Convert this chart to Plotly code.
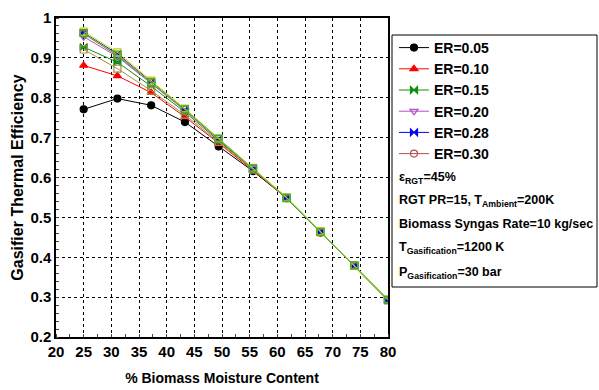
import plotly.graph_objects as go

# Moisture content (%) at which the gasifier was evaluated
moisture = [25, 31.1, 37.2, 43.3, 49.4, 55.6, 61.7, 67.8, 73.9, 80]

# Gasifier thermal efficiency for each equivalence ratio
eff_er005 = [0.771, 0.798, 0.781, 0.739, 0.678, 0.616, 0.548, 0.462, 0.380, 0.293]
eff_er010 = [0.881, 0.855, 0.813, 0.752, 0.686, 0.618, 0.548, 0.463, 0.379, 0.292]
eff_er015 = [0.927, 0.889, 0.829, 0.764, 0.692, 0.621, 0.548, 0.463, 0.379, 0.292]
eff_er020 = [0.953, 0.903, 0.836, 0.768, 0.695, 0.622, 0.549, 0.464, 0.379, 0.293]
eff_er028 = [0.963, 0.910, 0.840, 0.771, 0.697, 0.623, 0.549, 0.464, 0.379, 0.293]
eff_er030 = [0.960, 0.906, 0.838, 0.770, 0.696, 0.622, 0.549, 0.464, 0.379, 0.293]
eff_er035 = [0.966, 0.914, 0.843, 0.773, 0.698, 0.624, 0.550, 0.465, 0.380, 0.294]
eff_er040 = [0.962, 0.908, 0.839, 0.771, 0.697, 0.623, 0.549, 0.464, 0.380, 0.293]
eff_er045 = [0.921, 0.873, 0.818, 0.757, 0.689, 0.620, 0.548, 0.463, 0.379, 0.292]

# name, values, line colour, marker symbol, marker colour, listed in legend
series = [
    ("ER=0.05", eff_er005, "#000000", "circle", "#000000", True),
    ("ER=0.10", eff_er010, "#ff0000", "triangle-up", "#ff0000", True),
    ("ER=0.15", eff_er015, "#109010", "bowtie", "#109010", True),
    ("ER=0.20", eff_er020, "#b050c8", "triangle-down-open", "#b050c8", True),
    ("ER=0.28", eff_er028, "#0000ff", "bowtie", "#0000ff", True),
    ("ER=0.30", eff_er030, "#b05050", "circle-open", "#b05050", True),
    ("ER=0.45", eff_er045, "#a09048", "square-open", "#a09048", False),
    ("ER=0.35", eff_er035, "#e0e000", "square-open", "#c8c800", False),
    ("ER=0.40", eff_er040, "#50e030", "square-open", "#30b030", False),
]

fig = go.Figure()
for rank, (name, vals, col, sym, mcol, show) in enumerate(series, start=1):
    fig.add_trace(go.Scatter(
        x=moisture, y=vals, name=name, mode="lines+markers",
        line=dict(color=col, width=1),
        marker=dict(symbol=sym, size=7, color=mcol, line=dict(color=mcol, width=1.2)),
        showlegend=show, legendrank=rank,
    ))

FONT = "Liberation Sans, Arial, sans-serif"

x_ticks = [20, 25, 30, 35, 40, 45, 50, 55, 60, 65, 70, 75, 80]
y_ticks = [0.2, 0.3, 0.4, 0.5, 0.6, 0.7, 0.8, 0.9, 1.0]
y_labels = ["0.2", "0.3", "0.4", "0.5", "0.6", "0.7", "0.8", "0.9", "1"]

axis_common = dict(
    showline=True, linecolor="#000000", linewidth=1.5, mirror=True,
    showgrid=True, gridcolor="#000000", gridwidth=1, griddash="dot",
    ticks="", zeroline=False, automargin=False,
    tickfont=dict(family=FONT, size=15, color="#000000", weight="bold"),
)

fig.update_xaxes(
    range=[20, 80], tickvals=x_ticks, ticktext=[str(v) for v in x_ticks],
    title=dict(text="% Biomass Moisture Content", standoff=14,
               font=dict(family=FONT, size=14, color="#000000", weight="bold")),
    minor=dict(dtick=2.5, ticks="inside", ticklen=3, tickcolor="#444", showgrid=False),
    **axis_common,
)
fig.update_yaxes(
    range=[0.2, 1.0], tickvals=y_ticks, ticktext=y_labels,
    title=dict(text="Gasifier Thermal Efficiency", standoff=3,
               font=dict(family=FONT, size=16, color="#000000", weight="bold")),
    minor=dict(dtick=0.02, ticks="inside", ticklen=3, tickcolor="#444", showgrid=False),
    **axis_common,
)

# Box enclosing the legend and the operating conditions
fig.add_shape(type="rect", xref="paper", yref="paper",
              x0=(392 - 56) / 332, x1=(597 - 56) / 332,
              y0=(337 - 287) / 319, y1=(337 - 35) / 319,
              line=dict(color="#000000", width=1), fillcolor="#ffffff", layer="below")

conditions = [
    ("ε<sub>RGT</sub>=45%", 178),
    ("RGT PR=15, T<sub>Ambient</sub>=200K", 201),
    ("Biomass Syngas Rate=10 kg/sec", 224),
    ("T<sub>Gasification</sub>=1200 K", 248),
    ("P<sub>Gasification</sub>=30 bar", 273),
]
for txt, py in conditions:
    fig.add_annotation(
        text=txt, xref="paper", yref="paper",
        x=(397 - 56) / 332, y=(337 - py) / 319, xanchor="left", yanchor="middle",
        showarrow=False,
        font=dict(family=FONT, size=12.5, color="#000000", weight="bold"),
    )

fig.update_layout(
    width=599, height=390,
    margin=dict(l=56, r=211, t=18, b=53, autoexpand=False),
    paper_bgcolor="#ffffff", plot_bgcolor="#ffffff",
    legend=dict(
        x=(394 - 56) / 332, y=(337 - 32) / 319, xanchor="left", yanchor="top",
        bgcolor="rgba(0,0,0,0)", borderwidth=0,
        font=dict(family=FONT, size=14, color="#000000", weight="bold"),
        itemwidth=30, tracegroupgap=0,
    ),
)

fig.write_html("out.html")
